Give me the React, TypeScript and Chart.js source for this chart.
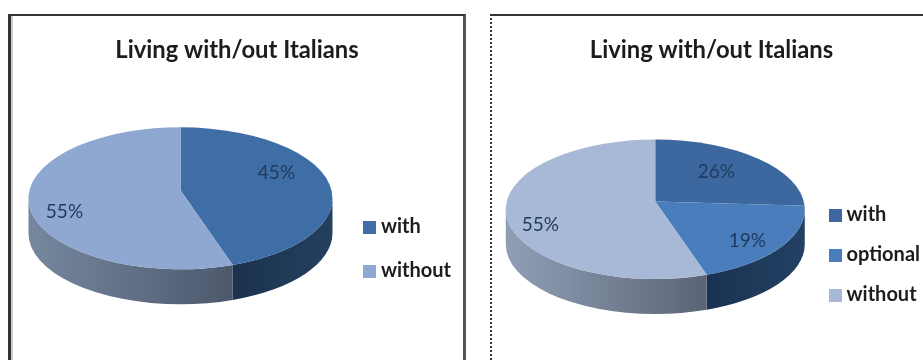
import React, { useEffect, useRef } from "react";
import { Chart, registerables } from "chart.js";

Chart.register(...registerables);

const chartTitle = "Living with/out Italians";

const leftLabels = ["with", "without"];
const leftValues = [45, 55];
const leftColors = ["#3f6ea6", "#8fa8d2"];

const rightLabels = ["with", "optional", "without"];
const rightValues = [26, 19, 55];
const rightColors = ["#3c689f", "#4a7dbb", "#a8b9d8"];

const FONT = "Lato, Carlito, sans-serif";
const TILT = 0.467;
const PERSPECTIVE = 0.1126;
const DEPTH = 35;
const SWATCH = 13;

// Square legend marker; as a point style it sits closer to its text than a regular box.
function swatch(color: string) {
  const c = document.createElement("canvas");
  c.width = SWATCH;
  c.height = SWATCH;
  const g = c.getContext("2d")!;
  g.fillStyle = color;
  g.fillRect(0, 0, SWATCH, SWATCH);
  return c;
}

// Maps a slice angle on the flat disc to the matching parameter on the rim ellipse,
// so that the near half of the disc looks larger than the far half.
function rimAngle(angle: number) {
  const p = PERSPECTIVE;
  const u = Math.cos(angle);
  const v = Math.sin(angle);
  const w = 1 - p * v;
  const x = (Math.sqrt(1 - p * p) * u) / w;
  const y = ((1 - p * p) * v) / w - p;
  const t = Math.atan2(y, x);
  // atan2 wraps; stay on the same turn as the incoming angle.
  return t + 2 * Math.PI * Math.round((angle - t) / (2 * Math.PI));
}

// Draws the pie as a tilted disc: side walls first, then the top face and the value labels.
const discPlugin = {
  id: "disc",
  afterLayout(chart: any, _args: any, opts: any) {
    // The legend and title boxes are nudged after layout so the pie keeps its own placement.
    const { legend, titleBlock } = chart;
    legend.left += opts.legendShift[0];
    legend.right += opts.legendShift[0];
    legend.top += opts.legendShift[1];
    legend.bottom += opts.legendShift[1];
    titleBlock.left += opts.titleShift;
    titleBlock.right += opts.titleShift;
  },
  beforeDatasetDraw(chart: any, args: any, opts: any) {
    const { ctx } = chart;
    const arcs = args.meta.data;
    const cx = arcs[0].x;
    const cy = arcs[0].y;
    const rx = arcs[0].outerRadius;
    const ry = rx * TILT;

    ctx.save();
    arcs.forEach((arc: any, i: number) => {
      const a0 = Math.max(rimAngle(arc.startAngle), 0);
      const a1 = Math.min(rimAngle(arc.endAngle), Math.PI);
      if (a1 <= a0) return;
      const xa = cx + rx * Math.cos(a1);
      const xb = cx + rx * Math.cos(a0);
      const g = ctx.createLinearGradient(xa, 0, xb, 0);
      g.addColorStop(0, opts.sides[i][0]);
      g.addColorStop(1, opts.sides[i][1]);
      ctx.beginPath();
      ctx.ellipse(cx, cy, rx, ry, 0, a0, a1);
      ctx.lineTo(cx + rx * Math.cos(a1), cy + ry * Math.sin(a1) + DEPTH);
      ctx.ellipse(cx, cy + DEPTH, rx, ry, 0, a1, a0, true);
      ctx.closePath();
      ctx.fillStyle = g;
      ctx.fill();
    });

    arcs.forEach((arc: any) => {
      ctx.beginPath();
      ctx.moveTo(cx, cy - ry * PERSPECTIVE);
      ctx.ellipse(cx, cy, rx, ry, 0, rimAngle(arc.startAngle), rimAngle(arc.endAngle));
      ctx.closePath();
      ctx.fillStyle = arc.options.backgroundColor;
      ctx.fill();
    });

    ctx.font = `19px ${FONT}`;
    ctx.fillStyle = "#1f3a5c";
    ctx.textAlign = "center";
    ctx.textBaseline = "middle";
    arcs.forEach((arc: any, i: number) => {
      const [dx, dy] = opts.spots[i];
      ctx.fillText(`${chart.data.datasets[0].data[i]}%`, cx + dx, cy + dy);
    });
    ctx.restore();
    return false;
  },
};

type PieProps = {
  labels: string[];
  values: number[];
  colors: string[];
  sides: string[][];
  spots: number[][];
  radius: number;
  padding: { left: number; right: number; top: number; bottom: number };
  legendPad: number;
  legendShift: number[];
  titleShift: number;
  frame: React.CSSProperties;
};

function Pie({ labels, values, colors, sides, spots, radius, padding, legendPad, legendShift, titleShift, frame }: PieProps) {
  const ref = useRef<HTMLCanvasElement>(null);
  useEffect(() => {
    const chart = new Chart(ref.current!, {
      type: "pie",
      data: { labels, datasets: [{ data: values, backgroundColor: colors, borderWidth: 0, radius }] },
      plugins: [discPlugin],
      options: {
        animation: false,
        responsive: false,
        layout: { padding },
        plugins: {
          disc: { sides, spots, legendShift, titleShift },
          tooltip: { enabled: false },
          title: {
            display: true,
            text: chartTitle,
            color: "#1c1c1c",
            font: { family: FONT, size: 23.8, weight: "bold" },
            padding: { top: 0, bottom: 0 },
          },
          legend: {
            position: "right",
            labels: {
              color: "#1c1c1c",
              font: { family: FONT, size: 20, weight: "bold" },
              usePointStyle: true,
              pointStyleWidth: 3,
              boxHeight: SWATCH,
              padding: legendPad,
              generateLabels: (c: any) =>
                c.data.labels.map((text: string, i: number) => ({
                  text,
                  index: i,
                  fontColor: "#1c1c1c",
                  pointStyle: swatch(colors[i]),
                })),
            },
          },
        },
      } as any,
    });
    return () => chart.destroy();
  }, []);
  return (
    <div style={{ position: "absolute", boxSizing: "border-box", background: "#fff", overflow: "hidden", ...frame }}>
      <canvas ref={ref} width={frame.width as number} height={frame.height as number} style={{ display: "block" }} />
    </div>
  );
}

export default function App() {
  return (
    <div style={{ position: "absolute", left: 0, top: 0, width: 923, height: 360, overflow: "hidden", background: "#fff" }}>
      <Pie
        labels={leftLabels}
        values={leftValues}
        colors={leftColors}
        sides={[["#1a324f", "#24405f"], ["#76889f", "#4d586c"]]}
        spots={[[96, -25], [-116, 14]]}
        radius={152}
        padding={{ left: 8, right: 10, top: 20, bottom: 30 }}
        legendPad={24}
        legendShift={[2, 65]}
        titleShift={-2}
        frame={{ left: 8, top: 14, width: 458, height: 346, borderLeft: "3px solid #333", borderTop: "2px solid #333", borderRight: "3px solid #555", boxShadow: "inset 2px 0 0 #ccc" }}
      />
      <Pie
        labels={rightLabels}
        values={rightValues}
        colors={rightColors}
        sides={[["#1b3553", "#1b3553"], ["#1a3252", "#234163"], ["#919fb6", "#5a6475"]]}
        spots={[[61, -37], [92, 32], [-115, 16]]}
        radius={149.5}
        padding={{ left: 10, right: 0, top: 20, bottom: 8 }}
        legendPad={20}
        legendShift={[5, 60]}
        titleShift={-2}
        frame={{ left: 490, top: 14, width: 433, height: 346, borderLeft: "2px dotted #333", borderTop: "2px solid #333" }}
      />
    </div>
  );
}
